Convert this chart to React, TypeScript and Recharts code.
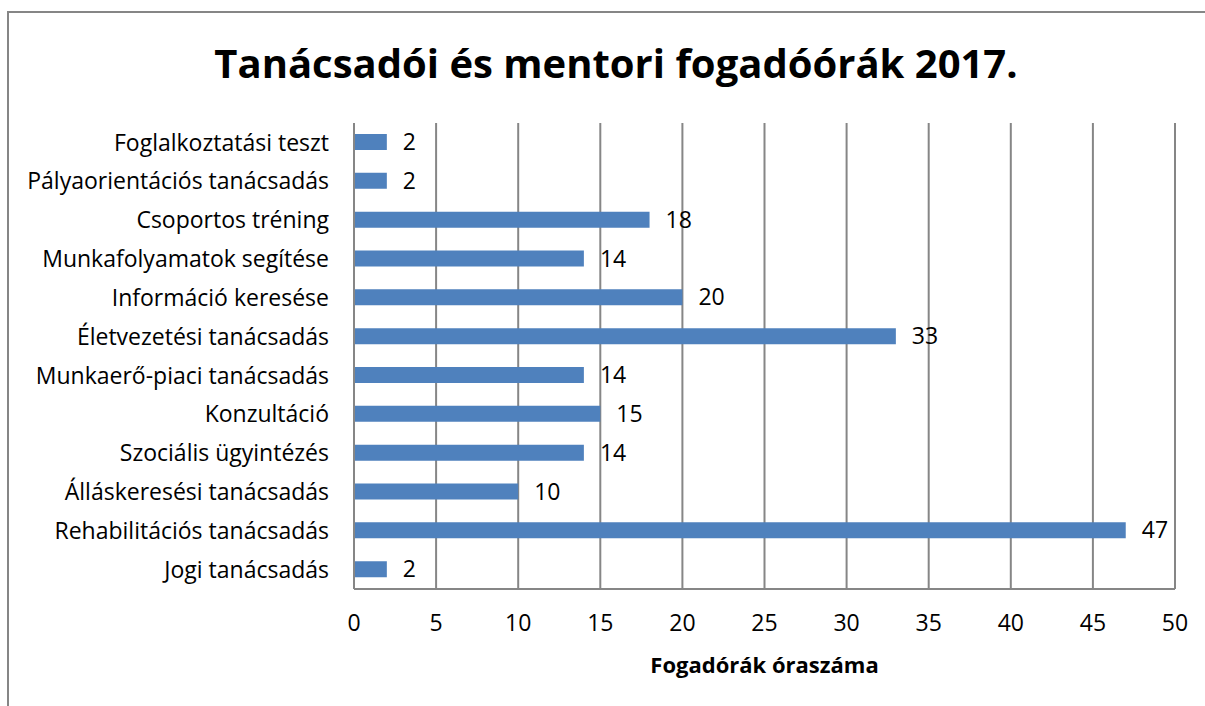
import { Bar, BarChart, CartesianGrid, LabelList, XAxis, YAxis } from "recharts"

const categories = [
  "Foglalkoztatási teszt",
  "Pályaorientációs tanácsadás",
  "Csoportos tréning",
  "Munkafolyamatok segítése",
  "Információ keresése",
  "Életvezetési tanácsadás",
  "Munkaerő-piaci tanácsadás",
  "Konzultáció",
  "Szociális ügyintézés",
  "Álláskeresési tanácsadás",
  "Rehabilitációs tanácsadás",
  "Jogi tanácsadás",
]

const hours = [2, 2, 18, 14, 20, 33, 14, 15, 14, 10, 47, 2]

const xTicks = [0, 5, 10, 15, 20, 25, 30, 35, 40, 45, 50]

const title = "Tanácsadói és mentori fogadóórák 2017."
const axisTitle = "Fogadórák óraszáma"

const font = "'Open Sans', Lato, sans-serif"
const gray = "#868686"

export default function App() {
  const chartData = categories.map((name, i) => ({ name, value: hours[i] }))

  return (
    <div
      style={{
        position: "absolute",
        left: 0,
        top: 0,
        width: 1205,
        height: 706,
        overflow: "hidden",
        background: "#fff",
        fontFamily: font,
      }}
    >
      <div
        style={{
          position: "absolute",
          left: 7,
          top: 11,
          width: 1400,
          height: 900,
          borderLeft: `2px solid ${gray}`,
          borderTop: `2px solid ${gray}`,
        }}
      />
      <div
        style={{
          position: "absolute",
          left: 0,
          top: 33,
          width: 1232,
          textAlign: "center",
          fontSize: 40,
          fontWeight: 700,
          color: "#000",
          lineHeight: "60px",
        }}
      >
        {title}
      </div>
      <div style={{ position: "absolute", left: 0, top: 0 }}>
        <BarChart
          width={1205}
          height={706}
          data={chartData}
          layout="vertical"
          margin={{ top: 123, right: 30, bottom: 17, left: 14 }}
        >
          <CartesianGrid horizontal={false} stroke={gray} strokeWidth={2} />
          <XAxis
            type="number"
            domain={[0, 50]}
            ticks={xTicks}
            interval={0}
            height={100}
            tickLine={false}
            tickMargin={20}
            axisLine={{ stroke: gray, strokeWidth: 2 }}
            tick={{ fill: "#000", fontSize: 23, fontFamily: font }}
            label={{
              value: axisTitle,
              position: "insideBottom",
              offset: 16,
              fill: "#000",
              fontSize: 22,
              fontWeight: 700,
              fontFamily: font,
            }}
          />
          <YAxis
            type="category"
            dataKey="name"
            width={340}
            interval={0}
            tickLine={false}
            tickMargin={19}
            axisLine={{ stroke: gray, strokeWidth: 2 }}
            tick={{ fill: "#000", fontSize: 23, fontFamily: font }}
          />
          <Bar dataKey="value" fill="#4F81BD" barSize={16} isAnimationActive={false}>
            <LabelList
              dataKey="value"
              position="right"
              offset={16}
              fill="#000"
              fontSize={23}
              fontFamily={font}
            />
          </Bar>
        </BarChart>
      </div>
    </div>
  )
}
